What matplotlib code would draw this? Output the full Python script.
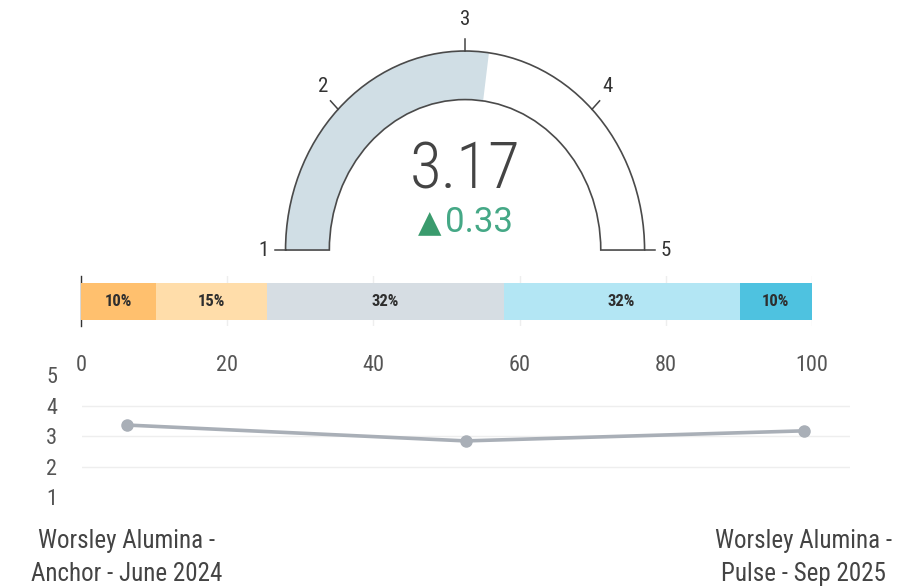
import matplotlib
matplotlib.use("Agg")
import matplotlib.pyplot as plt
from matplotlib import font_manager
from matplotlib.patches import Wedge
import numpy as np

# pick the first sans that is installed
def first_font(names):
    for n in names:
        try:
            font_manager.findfont(n, fallback_to_default=False)
            return n
        except Exception:
            continue
    return 'DejaVu Sans'

narrow_font = first_font(['Roboto Condensed', 'Liberation Sans Narrow', 'Roboto'])
wide_font = first_font(['Roboto', 'Lato', 'DejaVu Sans'])
plt.rcParams['font.family'] = [narrow_font, 'DejaVu Sans']

# --- data ---
gauge_value = 3.17
gauge_delta = 0.33
gauge_min, gauge_max = 1, 5
gauge_ticks = [1, 2, 3, 4, 5]

dist_values = [10.2, 15.3, 32.3, 32.3, 9.9]
dist_colors = ['#FFC06E', '#FFDDAA', '#D6DDE3', '#B3E6F4', '#4EC2E0']
bar_ticks = [0, 20, 40, 60, 80, 100]

trend_labels = ['Worsley Alumina -\nAnchor - June 2024', '', 'Worsley Alumina -\nPulse - Sep 2025']
trend_values = [3.36, 2.84, 3.17]
trend_yticks = [1, 2, 3, 4, 5]

fig = plt.figure(figsize=(9.1, 5.87), dpi=100)

# --- gauge ---
ax_g = fig.add_axes([0.2546, 0.5232, 0.5129, 0.4577])
ax_g.set_xlim(-1.3, 1.3)
ax_g.set_ylim(-0.15, 1.2)
ax_g.axis('off')

def to_angle(v):
    return 180 - (v - gauge_min) / (gauge_max - gauge_min) * 180

ring_w = 0.244
ax_g.add_patch(Wedge((0, 0), 1, to_angle(gauge_value), 180, width=ring_w,
                     facecolor='#D0DEE5', edgecolor='none'))
ax_g.add_patch(Wedge((0, 0), 1, 0, 180, width=ring_w,
                     facecolor='none', edgecolor='#4A4A4A', lw=1.2))
for t in gauge_ticks:
    a = np.radians(to_angle(t))
    ax_g.plot([np.cos(a), 1.06 * np.cos(a)], [np.sin(a), 1.06 * np.sin(a)],
              color='#444444', lw=1.1)
    ax_g.text(1.12 * np.cos(a), 1.16 * np.sin(a), str(t), ha='center', va='center',
              fontsize=15, color='#333333')

ax_g.text(0, 0.31, f'{gauge_value:.2f}', ha='center', va='baseline',
          fontsize=47, fontweight='light', color='#444444')
ax_g.text(-0.195, 0.092, '\u25B2', ha='center', va='baseline', fontsize=22,
          color='#3A9B6D', family='DejaVu Sans')
ax_g.text(-0.11, 0.092, f'{gauge_delta:.2f}', ha='left', va='baseline',
          fontsize=25, color='#45A886', family=[wide_font, 'DejaVu Sans'])

# --- distribution bar ---
ax_b = fig.add_axes([0.089, 0.4446, 0.8033, 0.0852])
left = 0
for v, c in zip(dist_values, dist_colors):
    ax_b.barh(0, v, left=left, height=0.74, color=c, zorder=3)
    ax_b.text(left + v / 2, 0, f'{round(v)}%', ha='center', va='center',
              fontsize=12, fontweight='bold', color='#2E2E2E', zorder=4)
    left += v
ax_b.set_xlim(0, 100)
ax_b.set_ylim(-0.5, 0.5)
ax_b.set_xticks(bar_ticks)
ax_b.set_yticks([])
ax_b.tick_params(axis='x', length=0, pad=21, labelsize=16, labelcolor='#555555')
ax_b.grid(axis='x', color='#EEEEEE', lw=1, zorder=0)
for s in ['top', 'right', 'bottom']:
    ax_b.spines[s].set_visible(False)
ax_b.spines['left'].set_color('#333333')
ax_b.spines['left'].set_linewidth(1.0)

# --- trend line ---
ax_l = fig.add_axes([0.0901, 0.1533, 0.844, 0.2078])
x = np.arange(len(trend_values))
ax_l.plot(x, trend_values, color='#A9AFB7', lw=2.6, marker='o', markersize=8, zorder=3)
ax_l.set_xlim(-0.133, 2.136)
ax_l.set_ylim(1, 5)
ax_l.set_yticks(trend_yticks)
ax_l.set_xticks(x)
ax_l.set_xticklabels(trend_labels, linespacing=1.5)
ax_l.tick_params(axis='y', length=0, pad=18, labelsize=16, labelcolor='#555555')
ax_l.tick_params(axis='x', length=0, pad=23, labelsize=18, labelcolor='#444444')
for yv in trend_yticks[1:-1]:
    ax_l.axhline(yv, color='#EEEEEE', lw=1, zorder=0)
for s in ax_l.spines.values():
    s.set_visible(False)

fig.savefig('out.png', dpi=100)
